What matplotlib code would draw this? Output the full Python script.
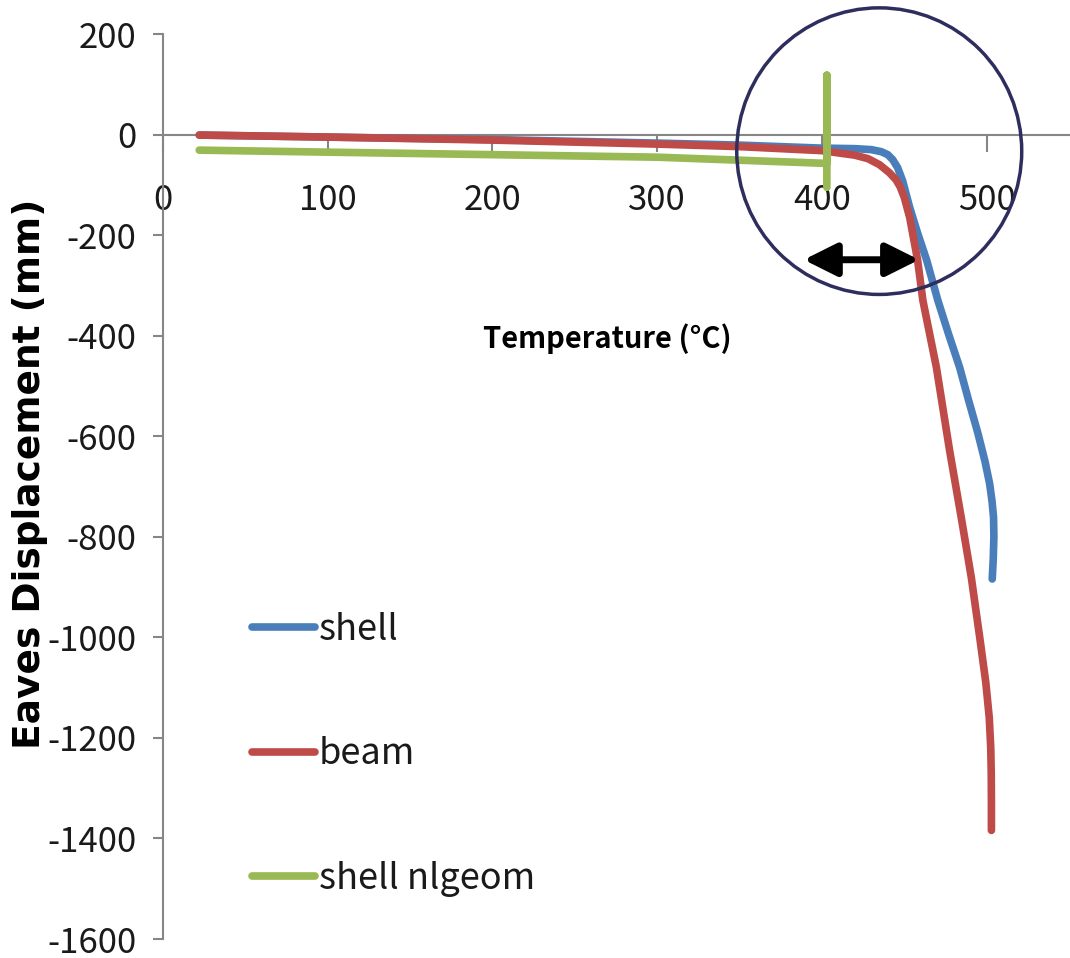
import matplotlib
matplotlib.use("Agg")
import matplotlib.pyplot as plt
from matplotlib.patches import Ellipse

# ---- data ----
shell_T = [22, 100, 200, 300, 350, 400, 420, 430, 436, 440, 443, 446, 449, 453.3, 458, 463.6,
           470.4, 477, 483.6, 489, 494.7, 499, 501.8, 503.3, 504.2, 504.4, 504.0, 503.4]
shell_D = [-1, -5, -10, -17, -21, -27, -28, -30, -34, -40, -50, -66, -92, -145, -195, -250,
           -330, -398, -463, -528, -594, -650, -694, -730, -762, -800, -845, -884]

beam_T = [22, 100, 200, 300, 350, 400, 420, 428, 435, 441, 445, 447.5, 450, 453.3, 458.1,
          461.3, 469.5, 477.5, 484.6, 490.7, 495.8, 499.5, 501.6, 502.5, 502.8, 502.9, 502.9]
beam_D = [-1, -5, -11, -19, -24, -32, -41, -48, -60, -76, -90, -104, -125, -165, -250,
          -330, -463, -628, -762, -881, -1000, -1090, -1160, -1220, -1270, -1330, -1384]

nlgeom_T = [22, 100, 200, 300, 350, 400, 403, 403, 403]
nlgeom_D = [-31, -35, -40, -45, -51, -57, -57, 118, -105]

series_labels = ["shell", "beam", "shell nlgeom"]
series_colors = ["#4A7EBB", "#BE4B48", "#98B954"]

x_ticks = [0, 100, 200, 300, 400, 500]
y_ticks = [200, 0, -200, -400, -600, -800, -1000, -1200, -1400, -1600]

x_label = "Temperature (°C)"
y_label = "Eaves Displacement (mm)"

# ---- figure ----
plt.rcParams['axes.unicode_minus'] = False
tick_font = ['Noto Sans CJK JP', 'DejaVu Sans']

fig = plt.figure(figsize=(10.7, 9.58), dpi=100)
ax = fig.add_axes([163/1070, 1 - 939/958, 906/1070, 905/958])

lw = 5.5
ax.plot(shell_T, shell_D, color=series_colors[0], lw=lw, solid_capstyle='round',
        solid_joinstyle='round', label=series_labels[0], zorder=3)
ax.plot(beam_T, beam_D, color=series_colors[1], lw=lw, solid_capstyle='round',
        solid_joinstyle='round', label=series_labels[1], zorder=4)
ax.plot(nlgeom_T, nlgeom_D, color=series_colors[2], lw=lw, solid_capstyle='round',
        solid_joinstyle='round', label=series_labels[2], zorder=5)

ax.set_xlim(0, 550)
ax.set_ylim(-1600, 200)

for s in ['top', 'right']:
    ax.spines[s].set_visible(False)
ax.spines['bottom'].set_position(('data', 0))
for s in ['left', 'bottom']:
    ax.spines[s].set_color('#868686')
    ax.spines[s].set_linewidth(1.5)

ax.set_xticks(x_ticks)
ax.set_yticks(y_ticks)
ax.set_xticklabels([str(v) for v in x_ticks])
ax.set_yticklabels([str(v) for v in y_ticks])
ax.tick_params(axis='x', direction='out', length=12, width=1.5, color='#868686',
               pad=23, labelsize=25, labelcolor='#1a1a1a')
ax.tick_params(axis='y', direction='out', length=7, width=1.5, color='#868686',
               pad=12, labelsize=25, labelcolor='#1a1a1a')
for lab in ax.get_xticklabels() + ax.get_yticklabels():
    lab.set_family(tick_font)

# axis titles
ax.text(270, -405, x_label, ha='center', va='center', fontsize=21,
        fontweight='bold', family=tick_font, color='black')
fig.text(30/1070, 1 - 474/958, y_label, rotation=90, ha='center', va='center',
         fontsize=27, fontweight='bold', family='DejaVu Sans', color='black')

# legend
leg = ax.legend(loc='upper left', bbox_to_anchor=(252/1070, 1 - 612/958),
                bbox_transform=fig.transFigure, frameon=False,
                labelspacing=2.45, handlelength=1.75, handletextpad=0.1,
                borderpad=0, borderaxespad=0, prop={'family': tick_font, 'size': 26})
for t in leg.get_texts():
    t.set_color('#1a1a1a')

# highlight circle and arrow
ell = Ellipse((434.8, -33), width=173, height=570, transform=ax.transData,
              fill=False, edgecolor='#2E2E5E', lw=2.5, clip_on=False, zorder=6)
ax.add_patch(ell)
ax.annotate('', xy=(459, -249), xytext=(389, -249),
            arrowprops=dict(arrowstyle='<|-|>', color='black', lw=5,
                            mutation_scale=50, shrinkA=0, shrinkB=0), zorder=7)

fig.savefig('out.png', dpi=100)
